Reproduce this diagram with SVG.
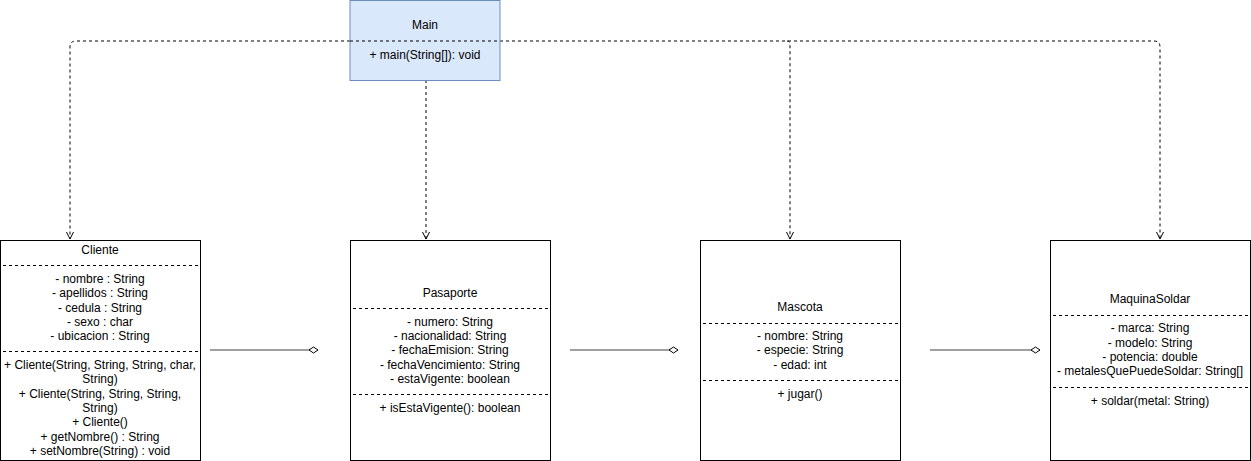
<svg xmlns="http://www.w3.org/2000/svg" width="1251" height="461" viewBox="0 0 1251 461">
<style>
text{font-family:"Liberation Sans",Arial,sans-serif;font-size:12px;fill:#000;text-anchor:middle;dominant-baseline:middle}
.box{fill:#fff;stroke:#000;stroke-width:1}
.sep{stroke:#000;stroke-width:1;stroke-dasharray:3,3}
.dep{fill:none;stroke:#000;stroke-width:1;stroke-dasharray:3,3;marker-end:url(#open)}
.agg{fill:none;stroke:#808080;stroke-width:1.5;marker-end:url(#dia)}
</style>
<defs>
<marker id="open" markerWidth="10" markerHeight="10" refX="8" refY="5" orient="auto" markerUnits="userSpaceOnUse">
<path d="M1,1.5 L8,5 L1,8.5" fill="none" stroke="#000" stroke-width="1"/>
</marker>
<marker id="dia" markerWidth="12" markerHeight="10" refX="10" refY="5" orient="auto" markerUnits="userSpaceOnUse">
<path d="M1,5 L5.5,2 L10,5 L5.5,8 Z" fill="#fff" stroke="#000" stroke-width="1"/>
</marker>
</defs>
<g id="connectors">
<path class="dep" d="M350,41 H76 Q70,41 70,47 V239"/>
<path class="dep" d="M500,41 H1154 Q1160,41 1160,47 V239"/>
<path class="dep" d="M787,41 Q790,41 790,44 V239"/>
<path class="dep" d="M426,80 V239"/>
<path class="agg" d="M210,350 H318"/>
<path class="agg" d="M570,350 H678"/>
<path class="agg" d="M930,350 H1040"/>
</g>
<g id="Main">
<rect x="350" y="0.5" width="150" height="80" fill="#dae8fc" stroke="#6c8ebf"/>
<text x="425" y="26">Main</text>
<line class="sep" x1="350" y1="41" x2="500" y2="41"/>
<text x="425" y="56">+ main(String[]): void</text>
</g>
<g id="Cliente">
<rect class="box" x="0.5" y="240.5" width="200" height="220"/>
<text x="100" y="251">Cliente</text>
<line class="sep" x1="3" y1="265.5" x2="198" y2="265.5"/>
<text x="100" y="280">- nombre : String</text>
<text x="100" y="294">- apellidos : String</text>
<text x="100" y="308.5">- cedula : String</text>
<text x="100" y="323">- sexo : char</text>
<text x="100" y="337">- ubicacion : String</text>
<line class="sep" x1="3" y1="351.5" x2="198" y2="351.5"/>
<text x="100" y="366">+ Cliente(String, String, String, char,</text>
<text x="100" y="380">String)</text>
<text x="100" y="395">+ Cliente(String, String, String,</text>
<text x="100" y="409">String)</text>
<text x="100" y="423">+ Cliente()</text>
<text x="100" y="438">+ getNombre() : String</text>
<text x="100" y="452">+ setNombre(String) : void</text>
</g>
<g id="Pasaporte">
<rect class="box" x="350.5" y="240.5" width="200" height="220"/>
<text x="450" y="294">Pasaporte</text>
<line class="sep" x1="353" y1="308.5" x2="548" y2="308.5"/>
<text x="450" y="323">- numero: String</text>
<text x="450" y="337">- nacionalidad: String</text>
<text x="450" y="351">- fechaEmision: String</text>
<text x="450" y="366">- fechaVencimiento: String</text>
<text x="450" y="380">- estaVigente: boolean</text>
<line class="sep" x1="353" y1="394.5" x2="548" y2="394.5"/>
<text x="450" y="409">+ isEstaVigente(): boolean</text>
</g>
<g id="Mascota">
<rect class="box" x="700.5" y="240.5" width="200" height="220"/>
<text x="800" y="308">Mascota</text>
<line class="sep" x1="703" y1="323.5" x2="898" y2="323.5"/>
<text x="800" y="337">- nombre: String</text>
<text x="800" y="351">- especie: String</text>
<text x="800" y="366">- edad: int</text>
<line class="sep" x1="703" y1="380.5" x2="898" y2="380.5"/>
<text x="800" y="395">+ jugar()</text>
</g>
<g id="MaquinaSoldar">
<rect class="box" x="1050.5" y="240.5" width="200" height="220"/>
<text x="1150" y="300">MaquinaSoldar</text>
<line class="sep" x1="1053" y1="315.5" x2="1248" y2="315.5"/>
<text x="1150" y="329">- marca: String</text>
<text x="1150" y="344">- modelo: String</text>
<text x="1150" y="358">- potencia: double</text>
<text x="1150" y="372">- metalesQuePuedeSoldar: String[]</text>
<line class="sep" x1="1053" y1="387.5" x2="1248" y2="387.5"/>
<text x="1150" y="402">+ soldar(metal: String)</text>
</g>
</svg>
